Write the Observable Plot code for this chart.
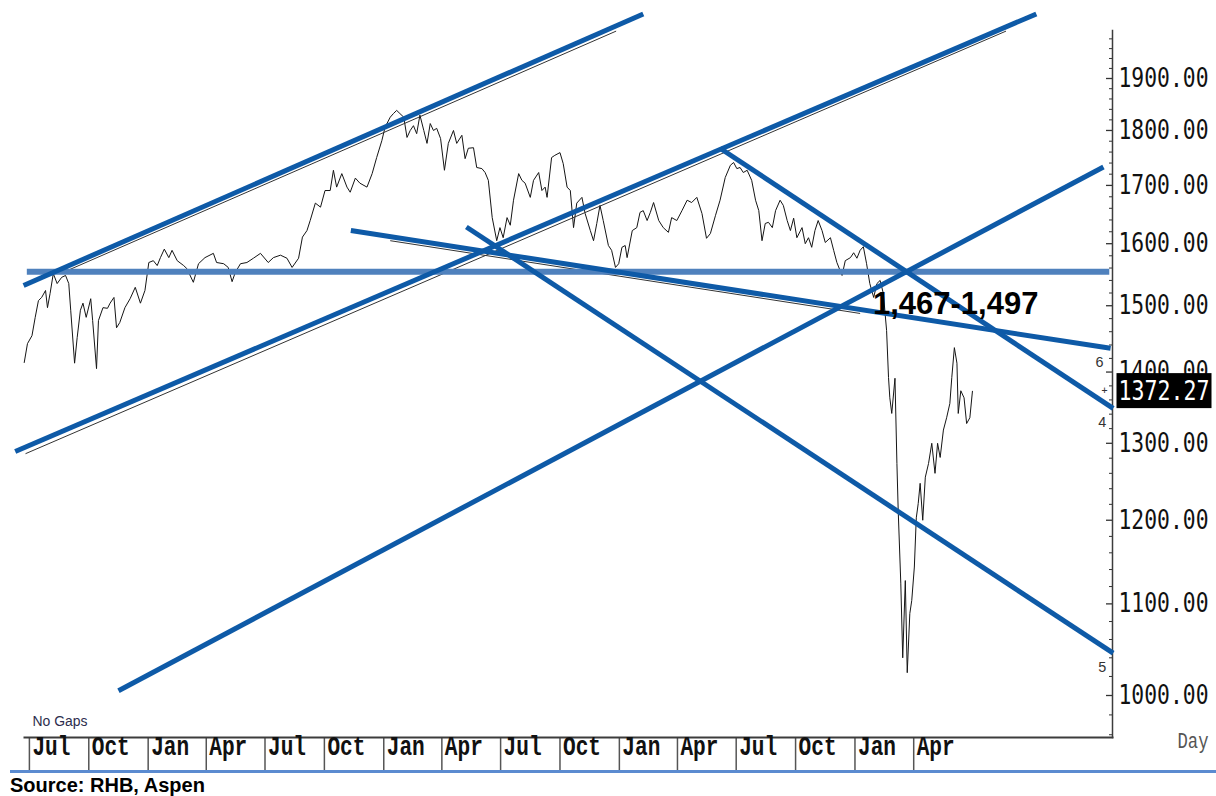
<!DOCTYPE html>
<html>
<head>
<meta charset="utf-8">
<script src="https://cdn.jsdelivr.net/npm/d3@7"></script>
<script src="https://cdn.jsdelivr.net/npm/@observablehq/plot@0.6"></script>
<style>
  body { margin: 0; background: #fff; }
  #chart svg { display: block; }
  #source {
    margin-left: 10px;
    border-top: 3px solid #5b8bd0;
    padding-top: 1px;
    font: bold 20px "Liberation Sans", Arial, sans-serif;
    line-height: 22px;
    color: #000;
  }
</style>
</head>
<body>
<div id="chart"></div>
<div id="source">Source: RHB, Aspen</div>
<script>
// ---------- DATA ----------
const priceDates = [
"2016-06-23","2016-06-28","2016-07-05","2016-07-10","2016-07-15","2016-07-20","2016-07-26","2016-07-29","2016-08-02","2016-08-07","2016-08-13","2016-08-20","2016-08-26","2016-08-31","2016-09-03","2016-09-09","2016-09-13","2016-09-18","2016-09-22","2016-09-27","2016-10-04","2016-10-07","2016-10-13","2016-10-16","2016-10-23","2016-10-30","2016-11-03","2016-11-09","2016-11-13","2016-11-18","2016-11-26","2016-12-04","2016-12-12","2016-12-20","2016-12-27",
"2017-01-02","2017-01-09","2017-01-15","2017-01-20","2017-01-26","2017-02-02","2017-02-07","2017-02-15","2017-02-25","2017-03-02","2017-03-12","2017-03-20","2017-03-30","2017-04-12","2017-04-17","2017-04-28","2017-05-05","2017-05-11","2017-05-16","2017-05-24","2017-06-03","2017-06-13","2017-06-24","2017-07-06","2017-07-14","2017-07-25","2017-08-04","2017-08-12","2017-08-22","2017-08-28","2017-09-04","2017-09-09","2017-09-17","2017-09-25","2017-10-02","2017-10-10","2017-10-15","2017-10-20","2017-10-28","2017-11-05","2017-11-10","2017-11-18","2017-11-25","2017-12-06","2017-12-14","2017-12-21","2017-12-29",
"2018-01-03","2018-01-11","2018-01-16","2018-01-21","2018-01-26","2018-02-01","2018-02-06","2018-02-11","2018-02-16","2018-02-21","2018-02-26","2018-03-04","2018-03-09","2018-03-14","2018-03-19","2018-03-24","2018-03-30","2018-04-05","2018-04-11","2018-04-19","2018-04-24","2018-05-02","2018-05-07","2018-05-12","2018-05-20","2018-05-25","2018-06-02","2018-06-07","2018-06-12","2018-06-18","2018-06-25","2018-06-30","2018-07-05","2018-07-11","2018-07-16","2018-07-21","2018-07-29","2018-08-03","2018-08-08","2018-08-16","2018-08-21","2018-08-29","2018-09-03","2018-09-08","2018-09-11","2018-09-18","2018-09-23","2018-10-01","2018-10-06","2018-10-12","2018-10-17","2018-10-22","2018-10-27","2018-11-04","2018-11-09","2018-11-17","2018-11-22","2018-11-27","2018-12-02","2018-12-07","2018-12-15","2018-12-20","2018-12-26","2018-12-31",
"2019-01-05","2019-01-10","2019-01-13","2019-01-21","2019-01-28","2019-02-02","2019-02-07","2019-02-13","2019-02-18","2019-02-23","2019-03-03","2019-03-10","2019-03-18","2019-03-23","2019-03-31","2019-04-08","2019-04-16","2019-04-23","2019-05-01","2019-05-09","2019-05-16","2019-05-22","2019-05-30","2019-06-06","2019-06-14","2019-06-22","2019-06-27","2019-07-02","2019-07-07","2019-07-12","2019-07-18","2019-07-25","2019-07-31","2019-08-05","2019-08-10","2019-08-15","2019-08-20","2019-08-26","2019-08-31","2019-09-07","2019-09-12","2019-09-18","2019-09-23","2019-09-28","2019-10-03","2019-10-11","2019-10-16","2019-10-21","2019-10-26","2019-10-31","2019-11-05","2019-11-11","2019-11-16","2019-11-24","2019-11-29","2019-12-04","2019-12-12","2019-12-17","2019-12-25","2019-12-30",
"2020-01-04","2020-01-09","2020-01-14","2020-01-19","2020-01-24","2020-01-30","2020-02-04","2020-02-09","2020-02-14","2020-02-19","2020-02-22","2020-02-24","2020-02-27","2020-03-03","2020-03-06","2020-03-08","2020-03-12","2020-03-15","2020-03-19","2020-03-22","2020-03-26","2020-03-29","2020-04-02","2020-04-05","2020-04-08","2020-04-11","2020-04-15","2020-04-19","2020-04-24","2020-04-29","2020-05-04","2020-05-08","2020-05-12","2020-05-17","2020-05-22","2020-05-27","2020-05-30","2020-06-03","2020-06-07","2020-06-09","2020-06-13","2020-06-18","2020-06-22","2020-06-27","2020-07-01"
];
const priceValues = [
1414,1442,1454,1482,1508,1513,1524,1497,1519,1551,1535,1545,1548,1535,1493,1413,1451,1493,1504,1482,1511,1477,1405,1477,1497,1496,1504,1513,1466,1474,1497,1511,1529,1504,1524,
1569,1572,1564,1577,1591,1577,1589,1572,1564,1559,1537,1567,1577,1584,1569,1567,1561,1538,1553,1567,1569,1576,1584,1569,1577,1581,1576,1561,1576,1611,1622,1639,1669,1662,1691,1691,1727,1697,1721,1697,1688,1713,1704,1697,1721,1750,1781,
1806,1825,1832,1838,1832,1825,1787,1800,1809,1794,1829,1800,1776,1813,1800,1804,1785,1727,1776,1800,1776,1791,1748,1767,1768,1732,1730,1723,1709,1644,1605,1627,1610,1644,1631,1674,1721,1709,1704,1679,1709,1723,1691,1697,1679,1750,1754,1759,1739,1697,1691,1627,1669,1679,1651,1622,1605,1634,1665,1639,1597,1589,1561,1567,
1594,1597,1577,1622,1627,1653,1656,1639,1653,1670,1639,1627,1619,1644,1639,1656,1674,1670,1679,1651,1609,1617,1648,1674,1714,1736,1741,1730,1732,1723,1727,1709,1674,1656,1605,1634,1636,1627,1656,1674,1665,1639,1622,1643,1610,1627,1600,1610,1594,1622,1639,1622,1602,1610,1589,1569,1548,1572,1577,1585,
1576,1589,1595,1567,1535,1513,1535,1540,1519,1462,1392,1363,1341,1391,1273,1212,1124,1040,1127,1024,1089,1104,1143,1203,1221,1247,1200,1255,1273,1300,1260,1300,1281,1318,1335,1355,1392,1436,1413,1341,1373,1363,1327,1335,1372.27
];
const lastPrice = 1372.27;

// quarter boundaries and labels of the time axis
const quarterDates = ["2016-07-01","2016-10-01","2017-01-01","2017-04-01","2017-07-01","2017-10-01","2018-01-01","2018-04-01","2018-07-01","2018-10-01","2019-01-01","2019-04-01","2019-07-01","2019-10-01","2020-01-01","2020-04-01"];
const quarterLabels = ["Jul","Oct","Jan","Apr","Jul","Oct","Jan","Apr","Jul","Oct","Jan","Apr","Jul","Oct","Jan","Apr"];

// value axis
const yTicks = [1000,1100,1200,1300,1400,1500,1600,1700,1800,1900];
const yMinorTicks = [960,980,1020,1040,1060,1080,1120,1140,1160,1180,1220,1240,1260,1280,1320,1340,1360,1380,1420,1440,1460,1480,1520,1540,1560,1580,1620,1640,1660,1680,1720,1740,1760,1780,1820,1840,1860,1880,1920,1940,1960,1980];

// drawn trend lines (blue)
const trendIds         = ["upperChannel","lowerChannel","risingSupport","decline6","decline5","decline4"];
const trendStartDates  = ["2016-06-22","2016-06-09","2016-11-16","2017-11-11","2018-05-09","2019-06-06"];
const trendStartValues = [1532,1289,1005,1622,1628,1767];
const trendEndDates    = ["2019-02-07","2020-10-08","2021-01-20","2021-01-31","2021-02-04","2021-02-04"];
const trendEndValues   = [2032,2032,1733,1435,1045,1348];

// horizontal support line
const supportValue = 1554;
const supportStart = "2016-06-27";
const supportEnd   = "2021-01-29";

// thin original guide lines under the blue overlays
const guideStartDates  = ["2016-08-18","2016-06-25","2018-01-11"];
const guideStartValues = [1551,1286,1605];
const guideEndDates    = ["2018-12-27","2020-08-22","2020-01-09"];
const guideEndValues   = [1996,1996,1488];

// line-end labels
const lineLabelTexts  = ["6","4","5"];
const lineLabelTrends = ["decline6","decline4","decline5"];

// annotation
const annotationText  = "1,467-1,497";
const annotationDate  = "2020-06-05";
const annotationValue = 1502;

// ---------- BUILD ----------
const parse = s => new Date(s + "T00:00:00Z");
const price = priceDates.map((d, i) => ({date: parse(d), value: priceValues[i]}));
const trends = trendIds.map((id, i) => ({id, x1: parse(trendStartDates[i]), y1: trendStartValues[i], x2: parse(trendEndDates[i]), y2: trendEndValues[i]}));
const support = [{x1: parse(supportStart), y1: supportValue, x2: parse(supportEnd), y2: supportValue}];
const guides = guideStartDates.map((d, i) => ({x1: parse(d), y1: guideStartValues[i], x2: parse(guideEndDates[i]), y2: guideEndValues[i]}));
const lineLabels = lineLabelTexts.map((t, i) => {
  const tr = trends.find(r => r.id === lineLabelTrends[i]);
  return {text: t, x: tr.x2, y: tr.y2};
});
const quarterTimes = quarterDates.map(parse);
const fmt2 = d3.format(".2f");

const chart = Plot.plot({
  width: 1216,
  height: 770,
  marginLeft: 24,
  marginRight: 104,
  marginTop: 30,
  marginBottom: 33,
  style: {fontFamily: "'DejaVu Sans Mono', monospace", background: "#fff", overflow: "visible"},
  x: {type: "utc", domain: [quarterTimes[0], quarterTimes[quarterTimes.length - 1]], range: [28.9, 913.2], label: null},
  y: {type: "log", domain: [1000, 1900], range: [695, 78], axis: null, label: null},
  marks: [
    // quarter separators of the date strip
    Plot.axisX({ticks: quarterTimes, anchor: "bottom", tickSize: 33, tickFormat: () => "", stroke: "#555", strokeWidth: 1.5, label: null}),
    Plot.frame({anchor: "bottom", stroke: "#3c3c3c", strokeWidth: 2}),
    Plot.frame({anchor: "right", stroke: "#3c3c3c", strokeWidth: 1.5}),
    Plot.tickY(yMinorTicks, {y: d => d, stroke: "#333", strokeWidth: 1, insetLeft: 1085}),
    Plot.tickY(yTicks, {y: d => d, stroke: "#333", strokeWidth: 1.3, insetLeft: 1082}),
    Plot.text(yTicks, {y: d => d, frameAnchor: "right", dx: 6, textAnchor: "start", text: d => fmt2(d), fontSize: 26, fill: "#111", ariaDescription: "ylabels"}),
    Plot.text(quarterTimes, {x: d => d, frameAnchor: "bottom", dy: 17, dx: 3, textAnchor: "start", text: (d, i) => quarterLabels[i],
      fontFamily: "'Liberation Mono', monospace", fontWeight: "bold", fontSize: 28, fill: "#111", ariaDescription: "xlabels"}),
    Plot.text(["No Gaps"], {frameAnchor: "bottom-left", dx: 8, dy: -11.5, textAnchor: "start", fontFamily: "'Liberation Sans', Arial, sans-serif", fontSize: 14, fill: "#2d2d4d", ariaDescription: "nogaps"}),
    Plot.text(["Day"], {frameAnchor: "bottom-right", dx: 65, dy: 10, textAnchor: "start", fontFamily: "'Liberation Mono', monospace", fontSize: 22, fill: "#555", ariaDescription: "day"}),
    // price
    Plot.line(price, {x: "date", y: "value", stroke: "#151515", strokeWidth: 1}),
    // guides and trend lines
    Plot.link(guides, {x1: "x1", y1: "y1", x2: "x2", y2: "y2", stroke: "#333", strokeWidth: 1}),
    Plot.link(support, {x1: "x1", y1: "y1", x2: "x2", y2: "y2", stroke: "#4f81bd", strokeWidth: 6}),
    Plot.link(trends, {x1: "x1", y1: "y1", x2: "x2", y2: "y2", stroke: "#0e5aa7", strokeWidth: 5}),
    Plot.text(lineLabels, {x: "x", y: "y", text: "text", dx: -11, dy: 14, fontFamily: "'Liberation Sans', Arial, sans-serif", fontSize: 15, fill: "#333", ariaDescription: "linelabels"}),
    Plot.text([{x: parse(annotationDate), y: annotationValue, text: annotationText}], {x: "x", y: "y", text: "text",
      fontFamily: "'Liberation Sans', Arial, sans-serif", fontWeight: "bold", fontSize: 31, fill: "#000"}),
    // last price marker
    Plot.text([lastPrice], {y: d => d, frameAnchor: "right", dx: -5, text: () => "+", fontSize: 10, fill: "#333"}),
    Plot.text([lastPrice], {y: d => d, frameAnchor: "right", dx: 6, textAnchor: "start", text: d => fmt2(d), fontSize: 26, fill: "#fff", ariaDescription: "lastprice"})
  ]
});

document.getElementById("chart").appendChild(chart);

// condensed look of the charting package's fonts
const svg = d3.select(chart);
function sel(desc) {
  return svg.selectAll("g").filter(function() { return this.getAttribute("aria-description") === desc; }).selectAll("text");
}
function squeeze(desc, len) {
  sel(desc).attr("textLength", len).attr("lengthAdjust", "spacingAndGlyphs");
}
squeeze("ylabels", 90);
squeeze("lastprice", 91);
squeeze("xlabels", 38);
squeeze("nogaps", 55);
squeeze("day", 31);
sel("linelabels").attr("textLength", 8).attr("lengthAdjust", "spacingAndGlyphs");

// black background box behind the last price
sel("lastprice").each(function() {
  const bb = this.getBBox();
  const cy = bb.y + bb.height / 2;
  d3.select(this.parentNode).insert("rect", () => this)
    .attr("transform", this.getAttribute("transform"))
    .attr("x", bb.x - 2).attr("y", cy - 17.5)
    .attr("width", bb.width + 4).attr("height", 35)
    .attr("fill", "#000");
});
</script>
</body>
</html>
